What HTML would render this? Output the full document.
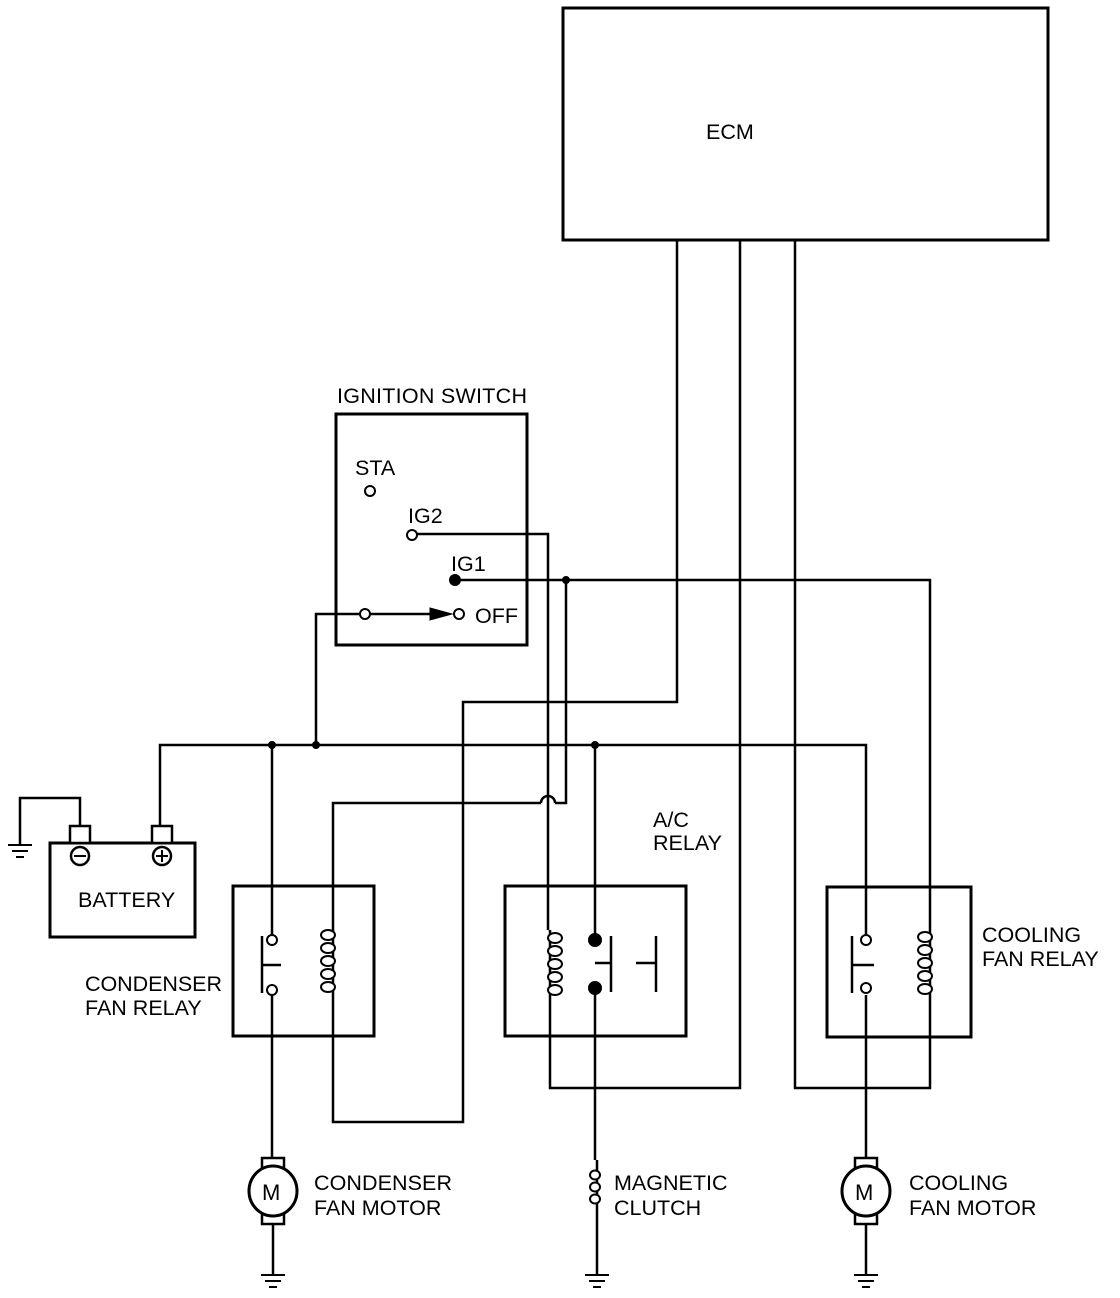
<!DOCTYPE html>
<html><head><meta charset="utf-8"><style>
html,body{margin:0;padding:0;background:#fff;}
svg{display:block;}
text{font-family:"Liberation Sans",sans-serif;font-size:21.5px;fill:#000;}
</style></head><body>
<svg width="1120" height="1298" viewBox="0 0 1120 1298" xmlns="http://www.w3.org/2000/svg">
<g fill="none" stroke="#000" stroke-width="2.5">
<rect x="563" y="8" width="485" height="232" stroke-width="3"/>
<rect x="336" y="414" width="191" height="231" stroke-width="3"/>
<polyline points="677,240 677,702 463,702 463,1122 333,1122 333,1000"/>
<polyline points="740,240 740,1088 550,1088 550,1000"/>
<polyline points="795,240 795,1088 930,1088 930,1000"/>
<polyline points="416,534 548,534 548,930"/>
<polyline points="459,580 930,580 930,925"/>
<polyline points="566,580 566,803 555,803"/>
<path d="M555,803 A7,7 0 0 0 541,803"/>
<polyline points="541,803 333,803 333,925"/>
<polyline points="361,614 316,614 316,745"/>
<line x1="369" y1="614" x2="435" y2="614"/>
<polyline points="160,826 160,745 866,745 866,935"/>
<line x1="272" y1="745" x2="272" y2="935"/>
<line x1="595" y1="745" x2="595" y2="940"/>
<rect x="50" y="843" width="145" height="94" stroke-width="3"/>
<rect x="70" y="826" width="20" height="17" fill="#fff"/>
<rect x="152" y="826" width="20" height="17" fill="#fff"/>
<circle cx="80" cy="856" r="9"/>
<circle cx="162" cy="856" r="9"/>
<line x1="74" y1="856" x2="86" y2="856" stroke-width="2"/>
<line x1="156" y1="856" x2="168" y2="856" stroke-width="2"/>
<line x1="162" y1="850" x2="162" y2="862" stroke-width="2"/>
<polyline points="80,826 80,798 20,798 20,845"/>
<rect x="233" y="886" width="141" height="150" stroke-width="3"/>
<rect x="505" y="886" width="181" height="150" stroke-width="3"/>
<rect x="827" y="887" width="144" height="150" stroke-width="3"/>
<line x1="272" y1="995" x2="272" y2="1160"/>
<line x1="262" y1="936" x2="262" y2="993"/>
<line x1="262" y1="965" x2="281" y2="965"/>
<line x1="866" y1="995" x2="866" y2="1160"/>
<line x1="852" y1="936" x2="852" y2="993"/>
<line x1="852" y1="965" x2="874" y2="965"/>
<line x1="595" y1="988" x2="595" y2="1160"/>
<line x1="611" y1="936" x2="611" y2="992"/>
<line x1="595" y1="963" x2="611" y2="963"/>
<line x1="656" y1="936" x2="656" y2="992"/>
<line x1="636" y1="963" x2="656" y2="963"/>
<line x1="333" y1="925" x2="333" y2="1000"/>
<line x1="550" y1="930" x2="550" y2="1000"/>
<line x1="930" y1="925" x2="930" y2="1000"/>
<rect x="262" y="1158" width="22" height="12" fill="#fff"/>
<rect x="262" y="1212" width="22" height="12" fill="#fff"/>
<ellipse cx="273" cy="1191" rx="24" ry="25" fill="#fff" stroke-width="3"/>
<line x1="273" y1="1224" x2="273" y2="1275"/>
<rect x="855" y="1158" width="22" height="12" fill="#fff"/>
<rect x="855" y="1212" width="22" height="12" fill="#fff"/>
<ellipse cx="866" cy="1191" rx="24" ry="25" fill="#fff" stroke-width="3"/>
<line x1="866" y1="1224" x2="866" y2="1275"/>
<line x1="597" y1="1160" x2="597" y2="1275"/>
</g>
<g fill="#fff" stroke="#000" stroke-width="2">
<ellipse cx="328" cy="935" rx="7" ry="5"/><ellipse cx="328" cy="948" rx="7" ry="5"/><ellipse cx="328" cy="961" rx="7" ry="5"/><ellipse cx="328" cy="974" rx="7" ry="5"/><ellipse cx="328" cy="987" rx="7" ry="5"/>
<ellipse cx="555" cy="938" rx="7" ry="5"/><ellipse cx="555" cy="951" rx="7" ry="5"/><ellipse cx="555" cy="964" rx="7" ry="5"/><ellipse cx="555" cy="977" rx="7" ry="5"/><ellipse cx="555" cy="990" rx="7" ry="5"/>
<ellipse cx="925" cy="937" rx="7" ry="5"/><ellipse cx="925" cy="950" rx="7" ry="5"/><ellipse cx="925" cy="963" rx="7" ry="5"/><ellipse cx="925" cy="976" rx="7" ry="5"/><ellipse cx="925" cy="989" rx="7" ry="5"/>
<ellipse cx="595" cy="1175" rx="5" ry="4.5"/><ellipse cx="595" cy="1187" rx="5" ry="4.5"/><ellipse cx="595" cy="1199" rx="5" ry="4.5"/>
<circle cx="272" cy="940" r="5"/><circle cx="272" cy="990" r="5"/>
<circle cx="866" cy="940" r="5"/><circle cx="866" cy="988" r="5"/>
<circle cx="370" cy="491" r="5"/><circle cx="412" cy="535" r="5"/>
<circle cx="365" cy="614" r="5"/><circle cx="459" cy="614" r="5"/>
</g>
<g fill="#000" stroke="#000" stroke-width="2">
<circle cx="455" cy="580" r="5"/>
<circle cx="595" cy="940" r="6"/><circle cx="595" cy="988" r="6"/>
<circle cx="566" cy="580" r="3"/><circle cx="316" cy="745" r="3"/><circle cx="272" cy="745" r="3"/><circle cx="595" cy="745" r="3"/>
<polygon points="430,608 452,614 430,620" stroke-width="1"/>
<line x1="8" y1="845" x2="32" y2="845"/><line x1="12" y1="851" x2="28" y2="851"/><line x1="16" y1="857" x2="24" y2="857"/>
<line x1="261" y1="1275" x2="285" y2="1275"/><line x1="265" y1="1281" x2="281" y2="1281"/><line x1="269" y1="1287" x2="277" y2="1287"/>
<line x1="585" y1="1275" x2="609" y2="1275"/><line x1="589" y1="1281" x2="605" y2="1281"/><line x1="593" y1="1287" x2="601" y2="1287"/>
<line x1="854" y1="1275" x2="878" y2="1275"/><line x1="858" y1="1281" x2="874" y2="1281"/><line x1="862" y1="1287" x2="870" y2="1287"/>
</g>
<text x="706" y="139">ECM</text>
<text x="337" y="403" textLength="190">IGNITION SWITCH</text>
<text x="355" y="475">STA</text>
<text x="408" y="523">IG2</text>
<text x="451" y="571">IG1</text>
<text x="475" y="623">OFF</text>
<text x="78" y="907">BATTERY</text>
<text x="85" y="991" textLength="137">CONDENSER</text>
<text x="85" y="1015">FAN RELAY</text>
<text x="653" y="827">A/C</text>
<text x="653" y="850">RELAY</text>
<text x="982" y="942">COOLING</text>
<text x="982" y="966">FAN RELAY</text>
<text x="314" y="1190" textLength="138">CONDENSER</text>
<text x="314" y="1215">FAN MOTOR</text>
<text x="614" y="1190">MAGNETIC</text>
<text x="614" y="1215">CLUTCH</text>
<text x="909" y="1190">COOLING</text>
<text x="909" y="1215">FAN MOTOR</text>
<text x="262" y="1200" style="font-size:22px">M</text>
<text x="855" y="1200" style="font-size:22px">M</text>
</svg>
</body></html>
